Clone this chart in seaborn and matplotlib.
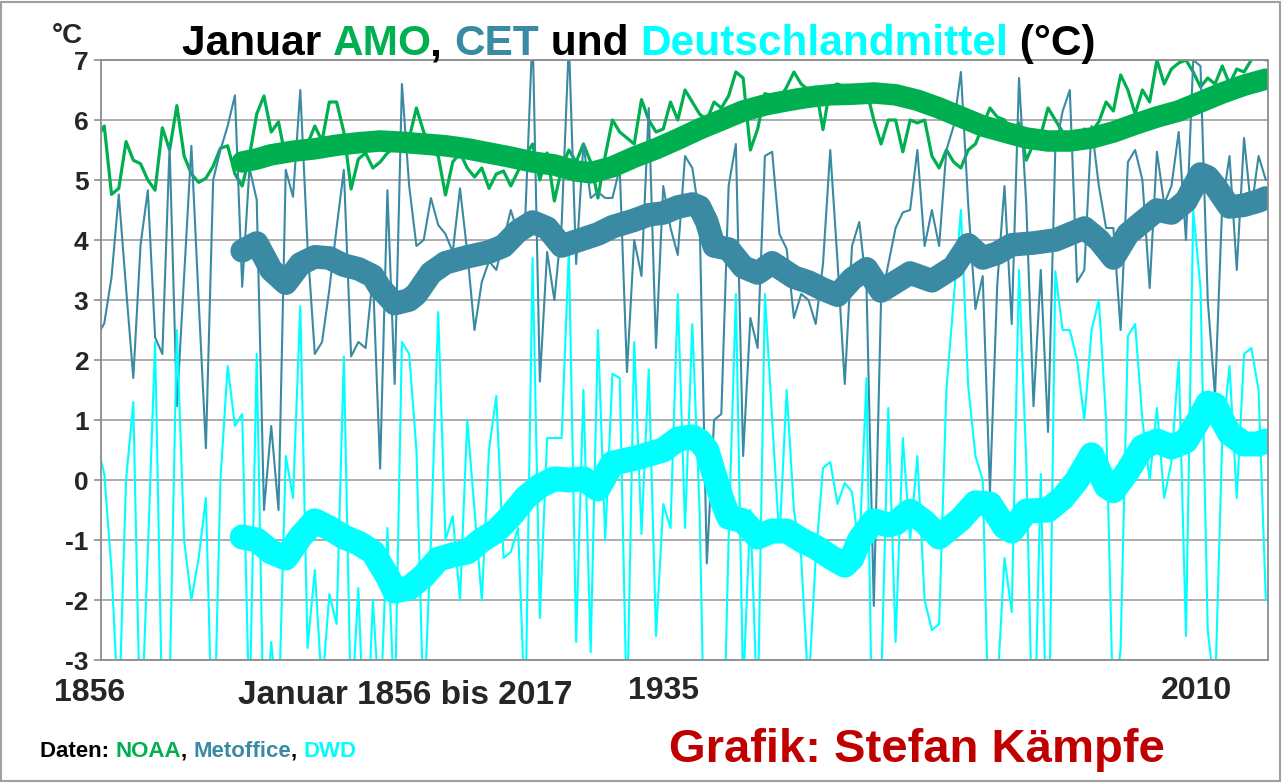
import matplotlib
matplotlib.use("Agg")
import matplotlib.pyplot as plt
import seaborn as sns
import numpy as np
from matplotlib.patches import Rectangle

# January values 1856-2017 (one row per decade)
years = list(range(1856, 2018))

amo = [
    5.7, 5.9, 4.76, 4.86, 5.64, 5.33, 5.27, 5.0, 4.83, 5.87,
    5.5, 6.24, 5.4, 5.1, 4.96, 5.03, 5.23, 5.53, 5.57, 5.1,
    4.9, 5.4, 6.1, 6.4, 5.8, 5.97, 5.35, 5.5, 5.55, 5.6,
    5.9, 5.65, 6.3, 6.3, 5.8, 4.85, 5.35, 5.45, 5.2, 5.3,
    5.45, 5.55, 5.65, 5.7, 6.2, 5.8, 5.5, 5.4, 4.75, 5.3,
    5.45, 5.2, 5.05, 5.2, 4.86, 5.1, 5.15, 4.9, 5.15, 5.4,
    5.6, 5.0, 5.45, 4.65, 5.2, 5.5, 5.3, 5.6, 5.3, 4.7,
    5.4, 6.0, 5.8, 5.7, 5.6, 6.34, 6.0, 5.8, 5.85, 6.3,
    6.0, 6.5, 6.3, 6.1, 6.0, 6.3, 6.2, 6.4, 6.8, 6.7,
    5.5, 5.85, 6.44, 6.4, 6.35, 6.55, 6.8, 6.6, 6.5, 6.55,
    5.84, 6.55, 6.6, 6.55, 6.5, 6.45, 6.5, 6.0, 5.6, 6.0,
    6.0, 5.47, 6.0, 5.95, 6.0, 5.4, 5.2, 5.5, 5.3, 5.2,
    5.5, 5.6, 5.9, 6.2, 6.05, 6.0, 5.8, 5.95, 5.33, 5.6,
    5.75, 6.2, 6.0, 5.8, 5.75, 5.7, 5.85, 5.8, 5.97, 6.3,
    6.15, 6.75, 6.5, 6.1, 6.5, 6.3, 7.0, 6.6, 6.85, 6.95,
    7.0, 6.8, 6.55, 6.7, 6.6, 6.9, 6.6, 6.85, 6.8, 7.0,
    7.1, 7.0,
]

cet = [
    2.4, 2.61, 3.38, 4.76, 3.2, 1.7, 3.92, 4.83, 2.38, 2.1,
    5.57, 1.23, 3.4, 5.57, 3.0, 0.53, 5.0, 5.5, 5.9, 6.41,
    3.22, 5.2, 4.67, -0.5, 0.9, -0.5, 5.17, 4.72, 6.5, 3.9,
    2.1, 2.3, 3.17, 4.2, 5.17, 2.06, 2.3, 2.2, 3.4, 0.19,
    4.83, 1.6, 6.6, 4.9, 3.9, 4.0, 4.7, 4.25, 4.1, 3.8,
    4.86, 3.8, 2.5, 3.3, 3.65, 3.5, 4.0, 4.5, 4.1, 4.4,
    7.5, 1.64, 3.8, 3.0, 4.25, 7.3, 3.6, 5.6, 4.7, 4.8,
    4.7, 4.7, 5.2, 1.8, 4.0, 3.4, 6.2, 2.2, 4.9, 4.2,
    3.75, 5.4, 5.2, 4.4, -1.39, 1.0, 1.1, 4.9, 5.6, 0.4,
    2.7, 2.2, 5.4, 5.47, 4.1, 3.85, 2.7, 3.1, 3.0, 2.6,
    3.6, 5.5, 3.65, 1.6, 3.9, 4.3, 3.2, -2.1, 3.0, 3.6,
    4.2, 4.46, 4.5, 5.5, 3.9, 4.5, 3.9, 5.5, 5.9, 6.8,
    4.6, 2.85, 3.4, -0.2, 3.25, 4.9, 2.6, 6.7, 4.6, 1.23,
    3.5, 0.8, 5.5, 6.14, 6.5, 3.3, 3.5, 5.9, 4.9, 4.2,
    4.2, 2.5, 5.3, 5.5, 5.0, 3.2, 5.47, 4.6, 4.9, 5.8,
    4.0, 7.0, 6.9, 3.0, 1.4, 4.6, 5.4, 3.5, 5.7, 4.5,
    5.4, 5.0,
]

dwd = [
    0.6, 0.1, -1.5, -4.0, 0.0, 1.3, -4.5, -1.2, 2.3, -4.0,
    -3.5, 2.5, -1.0, -2.0, -1.3, -0.3, -5.0, 0.0, 1.9, 0.9,
    1.1, -4.0, 2.1, -4.5, -2.7, -4.0, 0.4, -0.3, 2.9, -2.8,
    -1.5, -3.5, -1.9, -2.4, 2.06, -4.0, -1.8, -5.0, -2.0, -4.0,
    -0.8, -4.0, 2.3, 2.1, 0.5, -4.0, -1.0, 2.8, -1.0, -0.6,
    -2.0, 1.0, -0.5, -2.0, 0.5, 1.4, -1.3, -1.2, -0.8, -4.0,
    3.7, -2.3, 0.7, 0.7, 0.7, 3.85, -2.7, 1.5, -2.87, 2.5,
    -1.0, 1.77, 1.7, -4.0, 2.3, -0.9, 1.84, -2.6, -0.4, -0.8,
    3.1, -0.8, 2.6, -0.5, -6.5, -4.0, -6.0, -1.0, 3.1, -3.5,
    -0.5, -4.0, 3.1, 1.0, -1.0, 1.5, -0.5, -1.3, -3.5, -1.3,
    0.2, 0.3, -0.4, -0.05, -0.2, -1.2, 1.7, -6.0, -3.5, 1.2,
    -2.7, 0.7, -1.0, 0.4, -2.0, -2.5, -2.4, 1.5, 3.0, 4.5,
    1.57, 0.4, 0.0, -5.0, -3.5, -1.3, -2.2, 3.5, 0.3, -5.0,
    0.1, -5.5, 3.48, 2.5, 2.5, 2.0, 1.0, 2.5, 3.0, 1.0,
    -4.0, -2.8, 2.4, 2.6, 1.0, 0.0, 1.2, -0.3, 0.3, 2.0,
    -2.6, 4.5, 3.2, -2.5, -3.6, 0.7, 1.9, -0.3, 2.1, 2.2,
    1.5, -2.0,
]

# smoothed curves (thick lines), read at the sample years
amo_s_years = [1876, 1878, 1880, 1883, 1886, 1889, 1892, 1895, 1898, 1901, 1904, 1907,
               1910, 1913, 1916, 1919, 1922, 1924, 1927, 1930, 1933, 1936, 1939, 1942,
               1945, 1948, 1951, 1954, 1957, 1960, 1963, 1966, 1969, 1972, 1975, 1978,
               1981, 1984, 1987, 1990, 1993, 1996, 1999, 2002, 2005, 2008, 2011, 2014, 2017]
amo_s = [5.3, 5.35, 5.42, 5.48, 5.52, 5.58, 5.62, 5.65, 5.63, 5.6, 5.57, 5.52,
         5.45, 5.38, 5.3, 5.25, 5.15, 5.12, 5.22, 5.38, 5.52, 5.68, 5.85, 6.0,
         6.15, 6.25, 6.32, 6.38, 6.42, 6.43, 6.45, 6.42, 6.33, 6.2, 6.05, 5.9,
         5.8, 5.7, 5.65, 5.65, 5.7, 5.8, 5.93, 6.05, 6.15, 6.3, 6.45, 6.58, 6.68]

cet_s_years = [1876, 1878, 1880, 1882, 1884, 1886, 1888, 1890, 1892, 1894, 1895, 1897,
               1899, 1900, 1902, 1904, 1907, 1910, 1912, 1914, 1916, 1918, 1920, 1922,
               1925, 1927, 1930, 1932, 1934, 1936, 1938, 1939, 1940, 1941, 1943, 1945,
               1947, 1949, 1952, 1954, 1956, 1958, 1960, 1962, 1964, 1966, 1968, 1971,
               1974, 1976, 1978, 1980, 1982, 1985, 1988, 1990, 1992, 1994, 1996, 1998,
               2000, 2002, 2004, 2006, 2008, 2009, 2010, 2012, 2014, 2016, 2017]
cet_s = [3.82, 3.95, 3.5, 3.28, 3.6, 3.72, 3.7, 3.58, 3.52, 3.4, 3.2, 2.94,
         3.0, 3.1, 3.45, 3.62, 3.72, 3.8, 3.9, 4.15, 4.3, 4.2, 3.9, 3.98,
         4.1, 4.22, 4.33, 4.42, 4.45, 4.55, 4.6, 4.55, 4.3, 3.9, 3.85, 3.55,
         3.45, 3.62, 3.38, 3.3, 3.18, 3.08, 3.35, 3.52, 3.15, 3.3, 3.45, 3.32,
         3.55, 3.92, 3.7, 3.78, 3.92, 3.95, 4.0, 4.1, 4.2, 4.0, 3.7, 4.1,
         4.3, 4.5, 4.45, 4.65, 5.1, 5.05, 4.9, 4.55, 4.58, 4.65, 4.7]

dwd_s_years = [1876, 1878, 1880, 1882, 1884, 1886, 1888, 1890, 1892, 1894, 1896, 1897,
               1899, 1901, 1903, 1905, 1907, 1909, 1911, 1913, 1915, 1917, 1919, 1921,
               1923, 1925, 1927, 1930, 1932, 1934, 1936, 1938, 1939, 1940, 1941, 1942,
               1943, 1945, 1947, 1949, 1951, 1953, 1955, 1957, 1959, 1960, 1961, 1963,
               1965, 1966, 1968, 1970, 1972, 1975, 1977, 1979, 1981, 1982, 1984, 1987,
               1989, 1991, 1993, 1995, 1996, 1998, 2000, 2002, 2004, 2006, 2008, 2009,
               2010, 2011, 2012, 2014, 2016, 2017]
dwd_s = [-0.95, -1.0, -1.2, -1.3, -0.95, -0.68, -0.8, -0.95, -1.05, -1.2, -1.6, -1.85,
         -1.8, -1.6, -1.32, -1.25, -1.2, -1.0, -0.85, -0.6, -0.3, -0.1, 0.02, 0.0,
         0.02, -0.15, 0.28, 0.36, 0.43, 0.5, 0.68, 0.72, 0.65, 0.5, 0.1, -0.3,
         -0.62, -0.68, -0.95, -0.85, -0.85, -1.0, -1.12, -1.28, -1.42, -1.3, -1.0, -0.68,
         -0.75, -0.72, -0.52, -0.7, -0.95, -0.65, -0.38, -0.4, -0.78, -0.85, -0.52, -0.5,
         -0.3, 0.0, 0.42, -0.1, -0.18, 0.15, 0.55, 0.65, 0.55, 0.65, 1.05, 1.28,
         1.25, 1.0, 0.78, 0.6, 0.6, 0.65]

GREEN = "#00b050"
TEAL = "#3a8aa3"
CYAN = "#00ffff"
W, H = 1283, 783

sns.set_theme(style="white")
plt.rcParams["font.family"] = ["Liberation Sans", "DejaVu Sans"]
plt.rcParams["axes.unicode_minus"] = False

fig = plt.figure(figsize=(W / 100, H / 100), dpi=100)
ax = fig.add_axes([101 / W, 1 - 660 / H, (1268 - 101) / W, 600 / H])

# thin yearly lines
sns.lineplot(x=years, y=amo, ax=ax, color=GREEN, linewidth=2.3)
sns.lineplot(x=years, y=cet, ax=ax, color=TEAL, linewidth=1.5)
sns.lineplot(x=years, y=dwd, ax=ax, color=CYAN, linewidth=1.5)

# thick smoothed lines
thick = dict(solid_capstyle="round", solid_joinstyle="round")
sns.lineplot(x=amo_s_years, y=amo_s, ax=ax, color=GREEN, linewidth=15.5, **thick)
sns.lineplot(x=cet_s_years, y=cet_s, ax=ax, color=TEAL, linewidth=17, **thick)
sns.lineplot(x=dwd_s_years, y=dwd_s, ax=ax, color=CYAN, linewidth=18, **thick)

ax.set_xlim(1856.55, 2017.3)
ax.set_ylim(-3, 7)
ax.set_xticks([])
ax.set_yticks(range(-3, 8))
ax.set_yticklabels([str(v) for v in range(-3, 8)], fontsize=19, fontweight="bold")
ax.tick_params(axis="y", length=5, width=1.2, color="#8c8c8c", pad=4, left=True)
ax.yaxis.grid(True, color="#a6a6a6", linewidth=1.3)
ax.set_axisbelow(True)
ax.set_xlabel("")
ax.set_ylabel("")
for sp in ax.spines.values():
    sp.set_visible(True)
    sp.set_color("#8c8c8c")
    sp.set_linewidth(1.3)

renderer = fig.canvas.get_renderer()


def text_w(s, size):
    t = fig.text(0, 0, s, fontsize=size, fontweight="bold")
    w = t.get_window_extent(renderer).width
    t.remove()
    return w


def colored(x, y, parts, size):
    bar = text_w("|", size)
    done = ""
    for s, c in parts:
        off = text_w(done + "|", size) - bar if done else 0
        fig.text((x + off) / W, 1 - y / H, s, color=c, fontsize=size,
                 fontweight="bold", va="baseline", ha="left")
        done += s


colored(182, 55, [("Januar ", "black"), ("AMO", GREEN), (", ", "black"),
                  ("CET", TEAL), (" und ", "black"), ("Deutschlandmittel", CYAN),
                  (" (°C)", "black")], 30.5)
fig.text(52 / W, 1 - 43 / H, "°C", fontsize=20, fontweight="bold", va="baseline")

fig.text(90 / W, 1 - 701 / H, "1856", fontsize=23, fontweight="bold", ha="center", va="baseline")
fig.text(405 / W, 1 - 704 / H, "Januar 1856 bis 2017", fontsize=24, fontweight="bold",
         ha="center", va="baseline")
fig.text(664 / W, 1 - 699 / H, "1935", fontsize=23, fontweight="bold", ha="center", va="baseline")
fig.text(1196 / W, 1 - 699 / H, "2010", fontsize=23, fontweight="bold", ha="center", va="baseline")

colored(40, 757, [("Daten: ", "black"), ("NOAA", GREEN), (", ", "black"),
                  ("Metoffice", TEAL), (", ", "black"), ("DWD", CYAN)], 16)
fig.text(917 / W, 1 - 762 / H, "Grafik: Stefan Kämpfe", fontsize=34, fontweight="bold",
         color="#c00000", ha="center", va="baseline")

fig.patches.append(Rectangle((0.001, 0.002), 0.997, 0.995, transform=fig.transFigure,
                             fill=False, edgecolor="#a0a0a0", linewidth=1.5))

fig.savefig("out.png", dpi=100)
